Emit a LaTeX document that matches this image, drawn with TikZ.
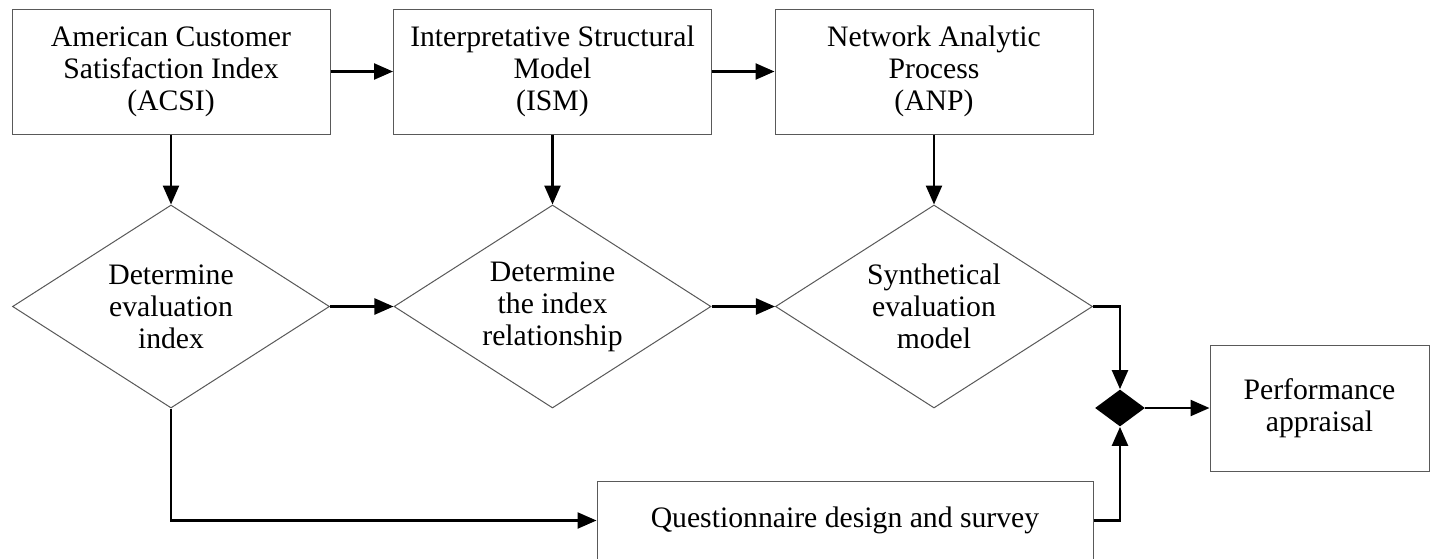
\documentclass[tikz,border=0pt]{standalone}
\usepackage{fontspec}
\setmainfont{Liberation Serif}
\usetikzlibrary{shapes.geometric,arrows.meta}
\begin{document}
\begin{tikzpicture}[x=0.5pt,y=-0.5pt,
  every node/.style={font=\fontsize{14.85}{16}\selectfont, align=center, inner sep=0pt},
  box/.style={draw=black!65, line width=0.5pt, rectangle, minimum width=159pt, minimum height=62.5pt},
  dia/.style={draw=black!65, line width=0.5pt, diamond, aspect=1.56, minimum width=158.5pt, minimum height=101.5pt},
  joindia/.style={fill=black, diamond, minimum width=25pt, minimum height=18.5pt},
  conn/.style={line width=1.2pt, -{Triangle[length=9.5pt,width=8pt]}}]
\useasboundingbox (0,0) rectangle (1432,558);
\fill[white] (0,0) rectangle (1432,558);
\node[box] (acsi) at (171,71.5) {American Customer\\Satisfaction Index\\(ACSI)};
\node[box] (ism) at (552.5,71.5) {Interpretative Structural\\Model\\(ISM)};
\node[box] (anp) at (934,71.5) {Network Analytic\\Process\\(ANP)};
\node[dia] (d1) at (171,306.5) {Determine\\evaluation\\index};
\node[dia] (d2) at (552.5,306.5) {Determine\\the index\\relationship};
\node[dia] (d3) at (934,306.5) {Synthetical\\evaluation\\model};
\node[joindia] (j) at (1120,408) {};
\node[box, minimum width=109.5pt, minimum height=63pt] (perf) at (1319.5,408) {Performance\\appraisal};
\node[box, minimum width=248pt, minimum height=39.5pt] (q) at (845,520.5) {Questionnaire design and survey};
\draw[conn] (acsi) -- (ism);
\draw[conn] (ism) -- (anp);
\draw[conn] (acsi) -- (d1);
\draw[conn] (ism) -- (d2);
\draw[conn] (anp) -- (d3);
\draw[conn] (d1) -- (d2);
\draw[conn] (d2) -- (d3);
\draw[conn] (d3.east) -| (j.north);
\draw[conn] (q.east) -| (j.south);
\draw[conn] (d1.south) |- (q.west);
\draw[conn] (j.east) -- (perf.west);
\end{tikzpicture}
\end{document}
